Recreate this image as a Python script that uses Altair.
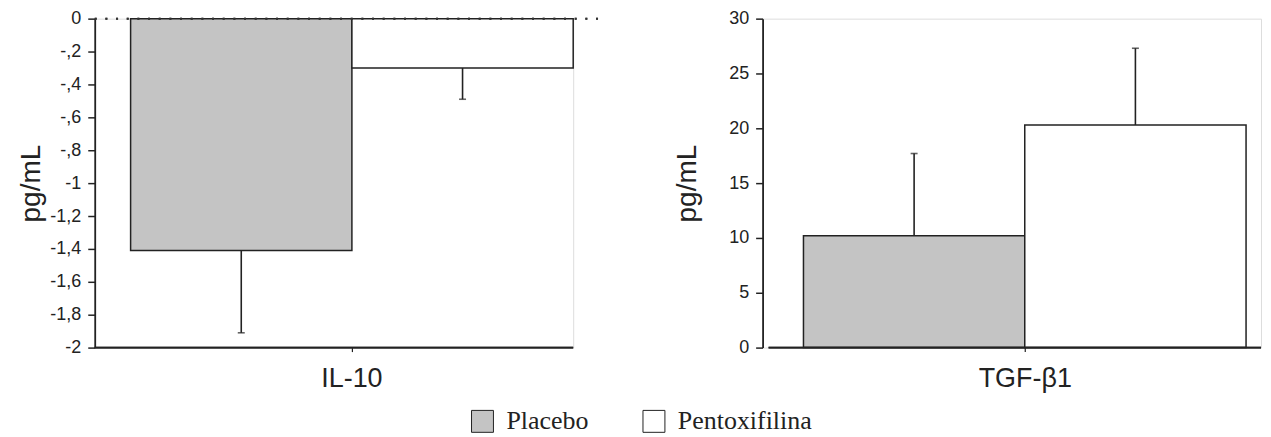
import altair as alt
import pandas as pd

groups = ["Placebo", "Pentoxifilina"]
fills = ["#c4c4c4", "#ffffff"]

il10_mean = [-1.41, -0.30]
il10_sd = [0.50, 0.19]
tgf_mean = [10.2, 20.3]
tgf_sd = [7.5, 7.0]

il10_ticks = [0, -0.2, -0.4, -0.6, -0.8, -1.0, -1.2, -1.4, -1.6, -1.8, -2.0]
tgf_ticks = [0, 5, 10, 15, 20, 25, 30]

il10 = pd.DataFrame({"cytokine": "IL-10", "group": groups, "mean": il10_mean, "sd": il10_sd})
il10["end"] = il10["mean"] - il10["sd"]
tgf = pd.DataFrame({"cytokine": "TGF-β1", "group": groups, "mean": tgf_mean, "sd": tgf_sd})
tgf["end"] = tgf["mean"] + tgf["sd"]

INK = "#222222"
SANS = "Liberation Sans"
SERIF = "Liberation Serif"

fill_scale = alt.Scale(domain=groups, range=fills)
legend = alt.Legend(
    orient="none", legendX=376, legendY=391, direction="horizontal", title=None,
    symbolType="square", symbolSize=484, symbolStrokeColor=INK, symbolStrokeWidth=1,
    labelFont=SERIF, labelFontSize=26, labelColor=INK, columnPadding=52, labelOffset=11,
    padding=0,
)

label_expr_il10 = ("datum.value == 0 ? '0' : '-' + replace(replace(format(abs(datum.value), '.1~f'), '0.', ','), '.', ',')")
label_expr_tgf = "format(datum.value, 'd')"


def panel(df, width, band_range, y_domain, ticks, label_expr, base_val, line_x0, dotted, title_pad):
    x = alt.X("cytokine:N", title=None,
              scale=alt.Scale(range=band_range, paddingInner=0, paddingOuter=0),
              axis=alt.Axis(domain=False, tickSize=4, tickWidth=1.2, tickColor=INK,
                            labelFont=SANS, labelFontSize=27, labelColor=INK,
                            labelPadding=14, labelAngle=0))
    xo = alt.XOffset("group:N", sort=groups, scale=alt.Scale(paddingInner=0, paddingOuter=0))
    yaxis = alt.Axis(values=ticks, tickCount=len(ticks) + 2, title="pg/mL", titleFont=SANS,
                     titleFontSize=28, titleFontWeight="normal", titleColor=INK,
                     titlePadding=title_pad,
                     labelFont=SANS, labelFontSize=18, labelColor=INK, labelPadding=7,
                     labelOverlap=False, labelExpr=label_expr,
                     tickSize=7, tickWidth=1.5, tickColor=INK, domainColor=INK,
                     domainWidth=1.8, grid=False)
    y = alt.Y("mean:Q", scale=alt.Scale(domain=y_domain, nice=False, zero=True), axis=yaxis)
    base = alt.Chart(df)
    bars = base.mark_bar(stroke=INK, strokeWidth=1.5).encode(
        x=x, xOffset=xo, y=y,
        fill=alt.Fill("group:N", scale=fill_scale, legend=legend),
    )
    err = base.mark_rule(color=INK, strokeWidth=1.6).encode(
        x=x, xOffset=xo, y="mean:Q", y2="end:Q")
    cap = base.mark_tick(orient="horizontal", size=7, thickness=1.6, color=INK).encode(
        x=x, xOffset=xo, y="end:Q")
    bottom = base.mark_rule(color=INK, strokeWidth=1.8).encode(
        y=alt.datum(base_val), x=alt.value(line_x0), x2=alt.value(width))
    layers = [bars, err, cap, bottom]
    if dotted:
        dots = base.mark_rule(color="#333333", strokeWidth=2, strokeDash=[2, 8.7]).encode(
            y=alt.datum(0), x=alt.value(0), x2=alt.value(513))
        layers.append(dots)
    return alt.layer(*layers).properties(width=width, height=330)


left = panel(il10, 480, [36, 480], [-2, 0], il10_ticks, label_expr_il10, -2, 0, True, 4)
right = panel(tgf, 500, [41, 486], [0, 30], tgf_ticks, label_expr_tgf, 0, 6, False, 27)

chart = alt.hconcat(left, right, spacing=65).properties(
    padding={"left": 9, "top": 0, "right": 0, "bottom": 0}
).configure_view(stroke=None).configure(background="white")

chart.save("out.html", embed_options={"renderer": "svg", "actions": False})
